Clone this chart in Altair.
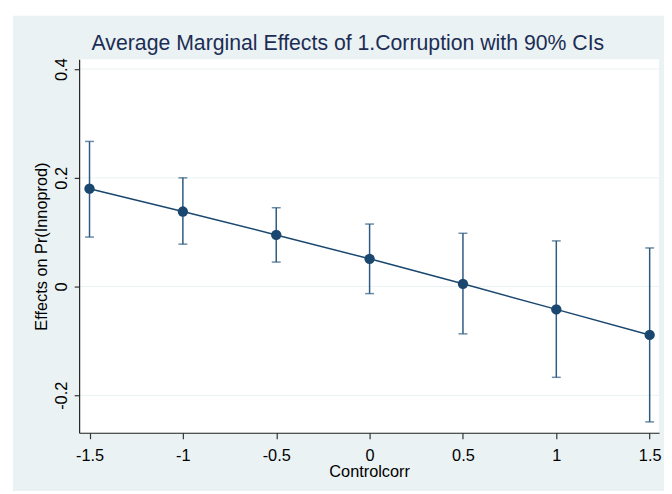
import altair as alt
import pandas as pd

title_text = "Average Marginal Effects of 1.Corruption with 90% CIs"
x_title = "Controlcorr"
y_title = "Effects on Pr(Innoprod)"

controlcorr = [-1.5, -1.0, -0.5, 0.0, 0.5, 1.0, 1.5]
effect = [0.180, 0.138, 0.095, 0.051, 0.005, -0.042, -0.089]
ci_low = [0.091, 0.078, 0.045, -0.013, -0.087, -0.167, -0.249]
ci_high = [0.267, 0.200, 0.145, 0.115, 0.098, 0.084, 0.071]

x_ticks = [-1.5, -1.0, -0.5, 0.0, 0.5, 1.0, 1.5]
y_ticks = [-0.2, 0.0, 0.2, 0.4]

df = pd.DataFrame({"x": controlcorr, "y": effect, "lo": ci_low, "hi": ci_high})
grid_df = pd.DataFrame({"g": y_ticks})
one = pd.DataFrame({"t": [title_text]})

W, H = 587, 378
NAVY = "#1a476f"
BAR = "#2c5a82"
BG = "#eaf2f3"
FONT = "Liberation Sans"

xs = alt.Scale(domain=[-1.5556, 1.5503], nice=False, zero=False)
ys = alt.Scale(domain=[-0.269, 0.418], nice=False, zero=False)

lab = "datum.value < 0 ? '-' + format(-datum.value, '~g') : format(datum.value, '~g')"

xaxis = alt.Axis(values=x_ticks, labelExpr=lab, title=x_title, grid=False,
                 tickSize=6, labelPadding=9, titlePadding=0, zindex=1)
yaxis = alt.Axis(values=y_ticks, labelExpr=lab, title=y_title, grid=False,
                 tickSize=5, labelAngle=270, labelAlign="center",
                 labelBaseline="bottom", labelPadding=5, titlePadding=4, zindex=1)

bg = alt.Chart(one).mark_rect(color=BG).encode(
    x=alt.value(-67), x2=alt.value(W + 5), y=alt.value(-44), y2=alt.value(H + 59))
plot_bg = alt.Chart(one).mark_rect(color="white").encode(
    x=alt.value(0), x2=alt.value(W), y=alt.value(0), y2=alt.value(H))
title = alt.Chart(one).mark_text(fontSize=21.5, font=FONT, color="#1c2d55",
                                 align="center", baseline="middle").encode(
    x=alt.value(272), y=alt.value(-15), text="t:N")

grid = alt.Chart(grid_df).mark_rule(color=BG, strokeWidth=1).encode(
    y=alt.Y("g:Q", scale=ys, axis=yaxis), x=alt.value(0), x2=alt.value(W))

base = alt.Chart(df)
rules = base.mark_rule(color=BAR, strokeWidth=1.5).encode(
    x=alt.X("x:Q", scale=xs, axis=xaxis), y=alt.Y("lo:Q", scale=ys), y2="hi:Q")
cap_lo = base.mark_tick(color=BAR, orient="horizontal", size=9, thickness=1.5).encode(
    x=alt.X("x:Q", scale=xs), y=alt.Y("lo:Q", scale=ys))
cap_hi = base.mark_tick(color=BAR, orient="horizontal", size=9, thickness=1.5).encode(
    x=alt.X("x:Q", scale=xs), y=alt.Y("hi:Q", scale=ys))
line = base.mark_line(color=NAVY, strokeWidth=1.5).encode(
    x=alt.X("x:Q", scale=xs), y=alt.Y("y:Q", scale=ys))
pts = base.mark_circle(color=NAVY, opacity=1, size=110).encode(
    x=alt.X("x:Q", scale=xs), y=alt.Y("y:Q", scale=ys))

chart = alt.layer(bg, plot_bg, title, grid, rules, cap_lo, cap_hi, line, pts).properties(
    width=W, height=H,
    autosize=alt.AutoSizeParams(type="none"),
    padding={"left": 72, "top": 49, "right": 5, "bottom": 59},
    background="white",
).configure_view(stroke=None).configure_axis(
    domainColor="#222", tickColor="#333", labelColor="black", titleColor="black",
    labelFont=FONT, titleFont=FONT, labelFontSize=16.5, titleFontSize=16.5,
    titleFontWeight="normal", domainWidth=1.2, tickWidth=1.2,
)

chart.save("out.html", embed_options={"renderer": "svg", "actions": False})
